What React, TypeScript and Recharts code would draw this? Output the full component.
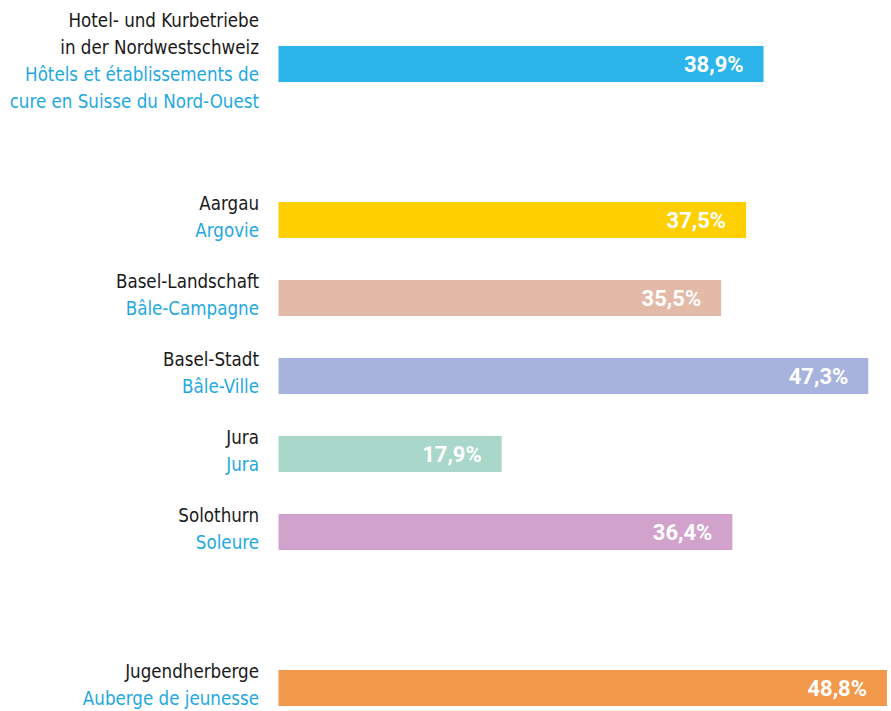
import React from "react";
import { BarChart, Bar, XAxis, YAxis, Cell, LabelList } from "recharts";

// Rows (empty strings are spacer rows)
const germanNames = [
  "Hotel- und Kurbetriebe\nin der Nordwestschweiz",
  "",
  "Aargau",
  "Basel-Landschaft",
  "Basel-Stadt",
  "Jura",
  "Solothurn",
  "",
  "Jugendherberge",
];
const frenchNames = [
  "Hôtels et établissements de\ncure en Suisse du Nord-Ouest",
  "",
  "Argovie",
  "Bâle-Campagne",
  "Bâle-Ville",
  "Jura",
  "Soleure",
  "",
  "Auberge de jeunesse",
];
const shares: (number | null)[] = [38.9, null, 37.5, 35.5, 47.3, 17.9, 36.4, null, 48.8];
const barColors = ["#2bb5ea", "#ffffff", "#ffd000", "#e3b9a7", "#a7b3dd", "#a9d7c9", "#d0a2cc", "#ffffff", "#f2994b"];

const data = germanNames.map((g, i) => ({ key: String(i), value: shares[i] }));

const LABEL_FONT = "'DejaVu Sans Condensed', 'DejaVu Sans', sans-serif";
const VALUE_FONT = "Roboto, 'DejaVu Sans Condensed', sans-serif";

const CategoryTick = (props: any) => {
  const { x, y, payload } = props;
  const i = Number(payload.value);
  const de = germanNames[i] ? germanNames[i].split("\n") : [];
  const fr = frenchNames[i] ? frenchNames[i].split("\n") : [];
  const lines = [
    ...de.map((t) => ({ t, c: "#1a1a1a" })),
    ...fr.map((t) => ({ t, c: "#1fa9e1" })),
  ];
  const n = lines.length;
  if (!n) return null;
  return (
    <g>
      {lines.map((l, k) => (
        <text
          key={k}
          x={x - 11.5}
          y={y - 10 + 26.8 * (k - (n / 2 - 1))}
          textAnchor="end"
          fill={l.c}
          fontFamily={LABEL_FONT}
          fontSize={18.6}
        >
          {l.t}
        </text>
      ))}
    </g>
  );
};

const ValueLabel = (props: any) => {
  const { x, y, width, height, value } = props;
  if (value == null) return null;
  const txt = Number(value).toFixed(1).replace(".", ",") + "%";
  return (
    <text
      x={x + width - 20}
      y={y + height / 2}
      dy={8}
      textAnchor="end"
      fill="#ffffff"
      fontFamily={VALUE_FONT}
      fontWeight="bold"
      fontSize={22}
    >
      {txt}
    </text>
  );
};

export default function App() {
  return (
    <div
      style={{
        position: "fixed",
        left: 0,
        top: 0,
        width: 891,
        height: 711,
        overflow: "hidden",
        background: "#ffffff",
      }}
    >
      <BarChart
        width={891}
        height={727}
        data={data}
        layout="vertical"
        margin={{ top: 25, right: 4, bottom: 0, left: 0 }}
        style={{ overflow: "visible" }}
      >
        <XAxis type="number" domain={[0, 48.8]} hide />
        <YAxis
          type="category"
          dataKey="key"
          width={278.5}
          axisLine={false}
          tickLine={false}
          tick={<CategoryTick />}
          interval={0}
        />
        <Bar dataKey="value" barSize={36} isAnimationActive={false}>
          {data.map((d, i) => (
            <Cell key={i} fill={barColors[i]} />
          ))}
          <LabelList dataKey="value" content={<ValueLabel />} />
        </Bar>
      </BarChart>
    </div>
  );
}
